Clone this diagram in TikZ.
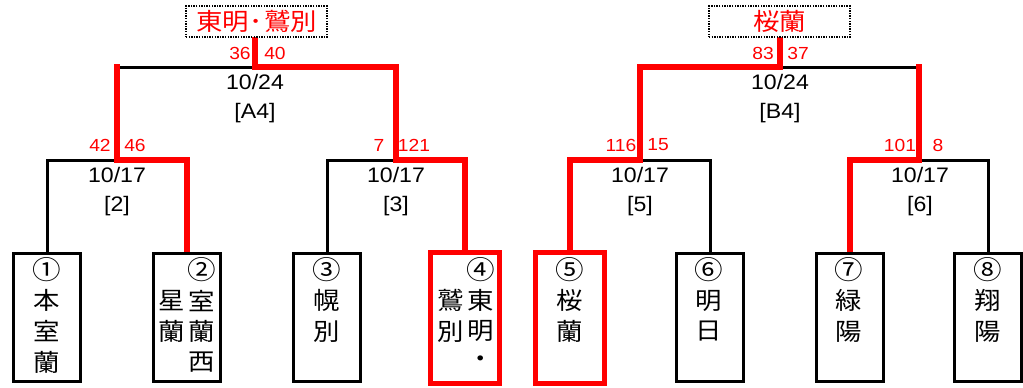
\documentclass[tikz,border=0pt]{standalone}
\usepackage{fontspec}
\setmainfont{Liberation Sans}[FakeStretch=1.1]
\newfontfamily\jp{Noto Sans CJK JP}[FakeStretch=1.1]
\usetikzlibrary{backgrounds}
\begin{document}
\begin{tikzpicture}[x=1bp,y=-1bp,
  blk/.style={line width=3bp, draw=black, line cap=rect, line join=miter},
  win/.style={line width=5.3bp, draw=red, line cap=rect, line join=miter},
  teambox/.style={draw=black, fill=white, line width=3bp, minimum width=67bp, minimum height=128bp, inner sep=0pt},
  winbox/.style={teambox, draw=red, line width=5.3bp, minimum width=69bp, minimum height=131bp},
  jch/.style={font=\jp\fontsize{24bp}{30bp}\selectfont, inner sep=0pt},
  jnum/.style={font=\jp\fontsize{26bp}{30bp}\selectfont, inner sep=0pt},
  datelbl/.style={font=\fontsize{21bp}{25bp}\selectfont, inner sep=0pt},
  scorelbl/.style={font=\fontsize{17.5bp}{21bp}\selectfont, text=red, inner sep=0pt},
  champ/.style={draw=black, fill=white, line width=2.4bp, dash pattern=on 1.4bp off 1.2bp, minimum width=141bp, minimum height=31bp, inner sep=0pt, text=red, font=\jp\fontsize{24bp}{30bp}\selectfont}
]
\useasboundingbox (0,0) rectangle (1023,387);

% team boxes
\node[teambox] (b1) at (47,317.5) {};
\node[teambox] (b2) at (187,317.5) {};
\node[teambox] (b3) at (327,317.5) {};
\node[winbox]  (b4) at (465,318) {};
\node[winbox]  (b5) at (570,318) {};
\node[teambox] (b6) at (710,317.5) {};
\node[teambox] (b7) at (850,317.5) {};
\node[teambox] (b8) at (988,317.5) {};

% seed numbers
\node[jnum] (n1) at (47,270) {①};
\node[jnum] (n2) at (202,270) {②};
\node[jnum] (n3) at (327,270) {③};
\node[jnum] (n4) at (481,270) {④};
\node[jnum] (n5) at (570,270) {⑤};
\node[jnum] (n6) at (709,270) {⑥};
\node[jnum] (n7) at (849,270) {⑦};
\node[jnum] (n8) at (988,270) {⑧};

% team names (vertical)
\foreach \t [count=\i] in {本,室,蘭} \node[jch] (ta-\i) at (47,{270+30.7*\i}) {\t};
\foreach \t [count=\i] in {室,蘭,西} \node[jch] (tb-\i) at (202,{270+30.7*\i}) {\t};
\foreach \t [count=\i] in {星,蘭} \node[jch] (tc-\i) at (172,{270+30.7*\i}) {\t};
\foreach \t [count=\i] in {幌,別} \node[jch] (td-\i) at (327,{270+30.7*\i}) {\t};
\foreach \t [count=\i] in {東,明,・} \node[jch] (te-\i) at (481,{270+30.7*\i}) {\t};
\foreach \t [count=\i] in {鷲,別} \node[jch] (tf-\i) at (451,{270+30.7*\i}) {\t};
\foreach \t [count=\i] in {桜,蘭} \node[jch] (tg-\i) at (570,{270+30.7*\i}) {\t};
\foreach \t [count=\i] in {明,日} \node[jch] (th-\i) at (709,{270+30.7*\i}) {\t};
\foreach \t [count=\i] in {緑,陽} \node[jch] (ti-\i) at (849,{270+30.7*\i}) {\t};
\foreach \t [count=\i] in {翔,陽} \node[jch] (tj-\i) at (988,{270+30.7*\i}) {\t};

% junctions
\coordinate (m1) at (117,160);
\coordinate (m2) at (396,160);
\coordinate (m3) at (640,160);
\coordinate (m4) at (919,160);
\coordinate (s1) at (255,67);
\coordinate (s2) at (780,67);

% champions
\node[champ] (c1) at (256.5,21.5) {東明\hspace{1bp}･\hspace{1bp}鷲別};
\node[champ] (c2) at (779.5,21.5) {桜蘭};

% connectors
\begin{pgfonlayer}{background}
\draw[blk] (b1.north) |- (m1);
\draw[blk] (b3.north) |- (m2);
\draw[blk] (b6.north) |- (m3);
\draw[blk] (b8.north) |- (m4);
\draw[blk] (m1 |- s1) -- (s1);
\draw[blk] (s2) -- (m4 |- s2);
\draw[win] (b2.north) |- (m1) -- (m1 |- s1);
\draw[win] (b4.north) |- (m2) -- (m2 |- s1) -- (s1) -- (s1 |- c1.south);
\draw[win] (b5.north) |- (m3) -- (m3 |- s2) -- (s2) -- (s2 |- c2.south);
\draw[win] (b7.north) |- (m4) -- (m4 |- s2);
\end{pgfonlayer}

% scores
\node[scorelbl] (sc1) at (240,53) {36};
\node[scorelbl] (sc2) at (275,53) {40};
\node[scorelbl] (sc3) at (100,145) {42};
\node[scorelbl] (sc4) at (135,145) {46};
\node[scorelbl] (sc5) at (379,145) {7};
\node[scorelbl] (sc6) at (414,145) {121};
\node[scorelbl] (sc7) at (763,53) {83};
\node[scorelbl] (sc8) at (798,53) {37};
\node[scorelbl] (sc9) at (621,145) {116};
\node[scorelbl] (sc10) at (658,145) {15};
\node[scorelbl] (sc11) at (900,145) {101};
\node[scorelbl] (sc12) at (938,145) {8};

% dates and game numbers
\node[datelbl] (d1) at (255,82) {10/24};
\node[datelbl] (g1) at (255,113) {[A4]};
\node[datelbl] (d2) at (780,82) {10/24};
\node[datelbl] (g2) at (780,113) {[B4]};
\node[datelbl] (d3) at (117,175) {10/17};
\node[datelbl] (g3) at (117,206) {[2]};
\node[datelbl] (d4) at (396,175) {10/17};
\node[datelbl] (g4) at (396,206) {[3]};
\node[datelbl] (d5) at (640,175) {10/17};
\node[datelbl] (g5) at (640,206) {[5]};
\node[datelbl] (d6) at (920,175) {10/17};
\node[datelbl] (g6) at (920,206) {[6]};
\end{tikzpicture}
\end{document}
